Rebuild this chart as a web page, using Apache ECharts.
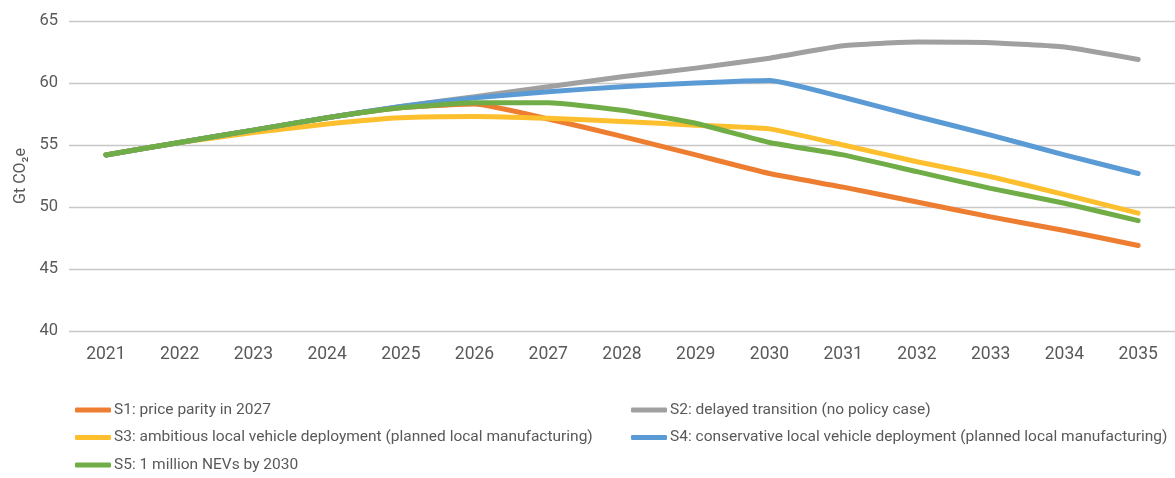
<!DOCTYPE html>
<html><head><meta charset="utf-8">
<script src="https://cdn.jsdelivr.net/npm/echarts@6/dist/echarts.min.js"></script>
<style>html,body{margin:0;padding:0;background:#fff}#c{width:1175px;height:478px}</style>
</head><body><div id="c"></div>
<script>
const years = ['2021','2022','2023','2024','2025','2026','2027','2028','2029','2030','2031','2032','2033','2034','2035'];
const s1 = [54.2,55.2,56.2,57.2,58.0,58.3,57.1,55.7,54.2,52.7,51.6,50.4,49.2,48.1,46.9];
const s2 = [54.2,55.2,56.2,57.2,58.1,58.9,59.7,60.5,61.2,62.0,63.0,63.3,63.25,62.9,61.9];
const s3 = [54.2,55.2,56.0,56.7,57.2,57.3,57.15,56.9,56.6,56.3,55.0,53.65,52.45,51.0,49.5];
const s4 = [54.2,55.2,56.2,57.2,58.1,58.8,59.3,59.7,60.0,60.2,58.85,57.3,55.8,54.2,52.7];
const s5 = [54.2,55.2,56.2,57.2,58.0,58.4,58.4,57.8,56.75,55.2,54.2,52.85,51.5,50.3,48.9];
const names = ['S1: price parity in 2027','S2: delayed transition (no policy case)','S3: ambitious local vehicle deployment (planned local manufacturing)','S4: conservative local vehicle deployment (planned local manufacturing)','S5: 1 million NEVs by 2030'];
const colors = ['#ED7D31','#A0A0A0','#FDBF2D','#5B9BD5','#70AD47'];
const yTicks = {min:40, max:65, interval:5};

const font = "Roboto, sans-serif";
const data = [s1,s2,s3,s4,s5];
const chart = echarts.init(document.getElementById('c'), null, {renderer:'canvas'});
const legendCommon = {
  orient:'vertical', itemWidth:36, itemHeight:5, itemGap:11.5, icon:'roundRect', padding:0, height:120,
  textStyle:{color:'#595959', fontSize:15.5, fontFamily:font, padding:[0,0,0,-2]}
};
chart.setOption({
  animation:false,
  color:colors,
  grid:{left:69, right:-1, top:21, bottom:147, containLabel:false},
  legend:[
    Object.assign({}, legendCommon, {left:75, top:402, data:[names[0],names[2],names[4]]}),
    Object.assign({}, legendCommon, {left:631, top:402, data:[names[1],names[3]]})
  ],
  xAxis:{type:'category', data:years, boundaryGap:true,
    axisLine:{show:false}, axisTick:{show:false},
    axisLabel:{color:'#595959', fontSize:17.5, fontFamily:font, margin:15}},
  yAxis:{type:'value', min:yTicks.min, max:yTicks.max, interval:yTicks.interval,
    name:'Gt CO₂e', nameLocation:'middle', nameGap:40, nameRotate:90,
    nameTextStyle:{color:'#595959', fontSize:16, fontFamily:font},
    axisLine:{show:false}, axisTick:{show:false},
    axisLabel:{color:'#595959', fontSize:16.5, fontFamily:font, margin:11},
    splitLine:{lineStyle:{color:'#c8c8c8', width:1.3}}},
  series:data.map((d,i)=>({name:names[i], type:'line', data:d, symbol:'none', smooth:0.15,
    lineStyle:{width:5, color:colors[i], cap:'round', join:'round'}, itemStyle:{color:colors[i]}}))
});
</script></body></html>
